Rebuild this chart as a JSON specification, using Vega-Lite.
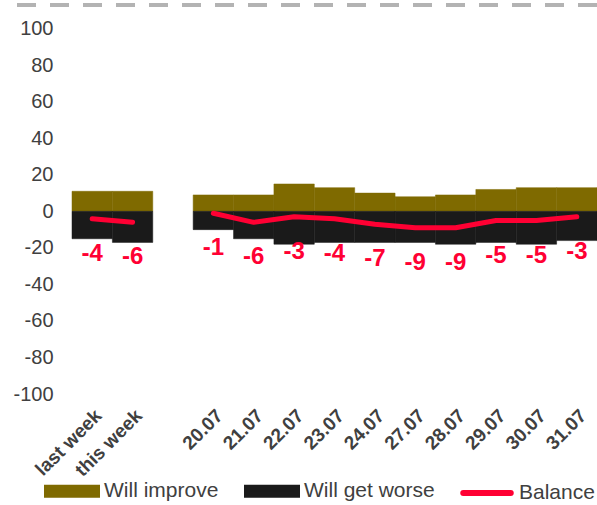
{
  "$schema": "https://vega.github.io/schema/vega-lite/v6.json",
  "width": 588,
  "height": 389,
  "autosize": {"type": "none"},
  "padding": {"left": 9, "top": 5, "right": 0, "bottom": 111},
  "config": {"view": {"stroke": null}, "font": "Liberation Sans", "axis": {"grid": false}},
  "datasets": {
    "bars": [
      {"cat": "last week", "series": "Will improve", "value": 11},
      {"cat": "this week", "series": "Will improve", "value": 11},
      {"cat": "20.07", "series": "Will improve", "value": 9},
      {"cat": "21.07", "series": "Will improve", "value": 9},
      {"cat": "22.07", "series": "Will improve", "value": 15},
      {"cat": "23.07", "series": "Will improve", "value": 13},
      {"cat": "24.07", "series": "Will improve", "value": 10},
      {"cat": "27.07", "series": "Will improve", "value": 8},
      {"cat": "28.07", "series": "Will improve", "value": 9},
      {"cat": "29.07", "series": "Will improve", "value": 12},
      {"cat": "30.07", "series": "Will improve", "value": 13},
      {"cat": "31.07", "series": "Will improve", "value": 13},
      {"cat": "last week", "series": "Will get worse", "value": -15},
      {"cat": "this week", "series": "Will get worse", "value": -17},
      {"cat": "20.07", "series": "Will get worse", "value": -10},
      {"cat": "21.07", "series": "Will get worse", "value": -15},
      {"cat": "22.07", "series": "Will get worse", "value": -18},
      {"cat": "23.07", "series": "Will get worse", "value": -17},
      {"cat": "24.07", "series": "Will get worse", "value": -17},
      {"cat": "27.07", "series": "Will get worse", "value": -17},
      {"cat": "28.07", "series": "Will get worse", "value": -18},
      {"cat": "29.07", "series": "Will get worse", "value": -17},
      {"cat": "30.07", "series": "Will get worse", "value": -18},
      {"cat": "31.07", "series": "Will get worse", "value": -16}
    ],
    "bal": [
      {"cat": "last week", "series": "Balance", "value": -4, "grp": "week"},
      {"cat": "this week", "series": "Balance", "value": -6, "grp": "week"},
      {"cat": "20.07", "series": "Balance", "value": -1, "grp": "day"},
      {"cat": "21.07", "series": "Balance", "value": -6, "grp": "day"},
      {"cat": "22.07", "series": "Balance", "value": -3, "grp": "day"},
      {"cat": "23.07", "series": "Balance", "value": -4, "grp": "day"},
      {"cat": "24.07", "series": "Balance", "value": -7, "grp": "day"},
      {"cat": "27.07", "series": "Balance", "value": -9, "grp": "day"},
      {"cat": "28.07", "series": "Balance", "value": -9, "grp": "day"},
      {"cat": "29.07", "series": "Balance", "value": -5, "grp": "day"},
      {"cat": "30.07", "series": "Balance", "value": -5, "grp": "day"},
      {"cat": "31.07", "series": "Balance", "value": -3, "grp": "day"}
    ]
  },
  "encoding": {
    "y": {
      "field": "value", "type": "quantitative", "stack": null,
      "scale": {"domain": [-100, 113], "nice": false, "zero": false},
      "axis": {"title": null, "values": [-100, -80, -60, -40, -20, 0, 20, 40, 60, 80, 100], "tickCount": 11, "labelExpr": "'' + datum.value", "labelOverlap": false, "domain": false, "ticks": false, "labelPadding": 2, "offset": -46, "labelFontSize": 20, "labelColor": "#404040"}
    }
  },
  "layer": [
    {
      "data": {"name": "bars"},
      "mark": {"type": "bar", "strokeWidth": 0.5},
      "encoding": {
        "x": {
          "field": "cat", "type": "nominal",
          "scale": {"domain": ["last week", "this week", " ", "20.07", "21.07", "22.07", "23.07", "24.07", "27.07", "28.07", "29.07", "30.07", "31.07"], "paddingInner": 0, "paddingOuter": 0.78, "align": 1},
          "axis": {"title": null, "labelAngle": -45, "labelFontSize": 19, "labelFontWeight": "bold", "labelColor": "#404040", "domain": false, "ticks": false, "labelPadding": 12}
        },
        "color": {
          "field": "series", "type": "nominal",
          "scale": {"domain": ["Will improve", "Will get worse", "Balance"], "range": ["#7f6a00", "#1a1a1a", "#ff0033"]},
          "legend": {
            "title": null, "orient": "none", "legendX": 35, "legendY": 458, "direction": "horizontal",
            "labelFontSize": 21, "labelColor": "#404040", "columnPadding": 16, "labelOffset": 4,
            "symbolType": "M-1,-0.14L1,-0.14L1,0.14L-1,0.14Z", "symbolSize": 2500, "symbolStrokeWidth": 6,
            "encode": {
              "symbols": {
                "update": {
                  "shape": {"signal": "datum.value === 'Balance' ? 'M-0.95,0L0.95,0' : 'M-1,-0.14L1,-0.14L1,0.14L-1,0.14Z'"},
                  "size": {"value": 2500},
                  "fill": {"signal": "datum.value === 'Balance' ? 'transparent' : scale('color', datum.value)"},
                  "stroke": {"signal": "datum.value === 'Balance' ? '#ff0033' : 'transparent'"},
                  "strokeWidth": {"value": 6},
                  "strokeCap": {"value": "round"},
                  "opacity": {"value": 1}
                }
              }
            }
          }
        },
        "stroke": {
          "field": "series", "type": "nominal",
          "scale": {"domain": ["Will improve", "Will get worse", "Balance"], "range": ["#7f6a00", "#1a1a1a", "#ff0033"]},
          "legend": null
        }
      }
    },
    {
      "data": {"name": "bal"},
      "mark": {"type": "line", "strokeWidth": 5, "strokeCap": "round", "strokeJoin": "round", "color": "#ff0033"},
      "encoding": {
        "x": {"field": "cat", "type": "nominal"},
        "detail": {"field": "grp"}
      }
    },
    {
      "data": {"name": "bal"},
      "mark": {"type": "text", "fontSize": 24, "fontWeight": "bold", "color": "#ff0033", "dy": 35},
      "encoding": {
        "x": {"field": "cat", "type": "nominal"},
        "text": {"field": "value"}
      }
    },
    {
      "data": {"values": [{"value": 113}]},
      "mark": {"type": "rule", "color": "#b3b3b3", "strokeWidth": 4, "strokeDash": [19, 14]},
      "encoding": {}
    }
  ]
}
